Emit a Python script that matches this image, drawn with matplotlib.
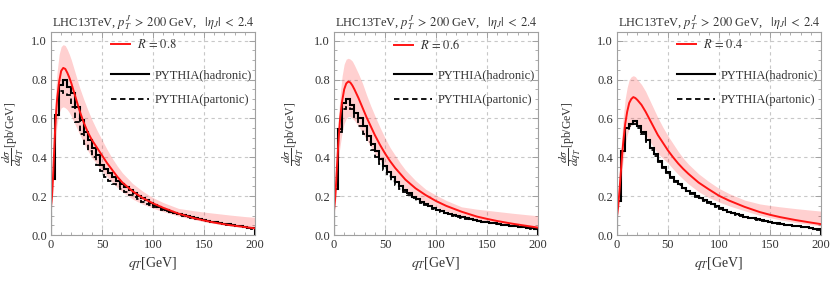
import matplotlib
matplotlib.use("Agg")

import matplotlib.pyplot as plt
import numpy as np
from matplotlib.lines import Line2D
from matplotlib.ticker import MultipleLocator

plt.rcParams["font.family"] = ["Liberation Serif", "DejaVu Serif"]
plt.rcParams["mathtext.fontset"] = "stix"

# histogram bins (4 GeV wide, 0..200)
bin_edges = np.arange(0, 201, 4)

# PYTHIA histograms, R = 0.8 / 0.6 / 0.4
had_08 = [0.29, 0.62, 0.77, 0.80, 0.76, 0.73, 0.66, 0.59, 0.53, 0.49,
          0.45, 0.41, 0.36, 0.34, 0.32, 0.30, 0.28, 0.26, 0.245, 0.23,
          0.215, 0.20, 0.19, 0.178, 0.165, 0.153, 0.143, 0.135, 0.127, 0.120,
          0.113, 0.107, 0.101, 0.096, 0.091, 0.086, 0.081, 0.077, 0.073, 0.069,
          0.065, 0.062, 0.058, 0.055, 0.051, 0.048, 0.045, 0.041, 0.038, 0.034]
par_08 = [0.29, 0.62, 0.74, 0.73, 0.72, 0.66, 0.58, 0.52, 0.47, 0.43,
          0.40, 0.36, 0.33, 0.30, 0.28, 0.265, 0.25, 0.235, 0.22, 0.207,
          0.195, 0.183, 0.172, 0.162, 0.153, 0.145, 0.138, 0.131, 0.124, 0.117,
          0.111, 0.105, 0.099, 0.094, 0.089, 0.084, 0.080, 0.076, 0.072, 0.068,
          0.064, 0.061, 0.057, 0.054, 0.050, 0.047, 0.044, 0.040, 0.037, 0.033]

had_06 = [0.235, 0.545, 0.68, 0.70, 0.67, 0.63, 0.60, 0.56, 0.51, 0.47,
          0.43, 0.39, 0.355, 0.325, 0.30, 0.275, 0.252, 0.232, 0.214, 0.198,
          0.184, 0.171, 0.159, 0.148, 0.138, 0.130, 0.122, 0.115, 0.108, 0.102,
          0.096, 0.091, 0.086, 0.081, 0.077, 0.073, 0.069, 0.066, 0.063, 0.060,
          0.057, 0.054, 0.051, 0.048, 0.046, 0.043, 0.040, 0.037, 0.034, 0.031]
par_06 = [0.235, 0.53, 0.65, 0.66, 0.65, 0.60, 0.56, 0.52, 0.48, 0.44,
          0.40, 0.365, 0.335, 0.305, 0.28, 0.258, 0.238, 0.22, 0.204, 0.19,
          0.177, 0.165, 0.154, 0.144, 0.135, 0.127, 0.119, 0.112, 0.106, 0.100,
          0.094, 0.089, 0.084, 0.080, 0.076, 0.072, 0.068, 0.065, 0.062, 0.059,
          0.056, 0.053, 0.050, 0.047, 0.045, 0.042, 0.039, 0.036, 0.033, 0.030]

had_04 = [0.175, 0.43, 0.55, 0.57, 0.585, 0.56, 0.53, 0.49, 0.45, 0.415,
          0.38, 0.35, 0.325, 0.30, 0.28, 0.26, 0.243, 0.228, 0.215, 0.202,
          0.19, 0.18, 0.17, 0.158, 0.147, 0.137, 0.128, 0.120, 0.113, 0.107,
          0.101, 0.095, 0.090, 0.085, 0.080, 0.076, 0.072, 0.068, 0.064, 0.061,
          0.057, 0.054, 0.051, 0.048, 0.045, 0.042, 0.039, 0.036, 0.033, 0.029]
par_04 = [0.175, 0.43, 0.54, 0.56, 0.57, 0.55, 0.52, 0.48, 0.44, 0.405,
          0.375, 0.345, 0.32, 0.295, 0.275, 0.255, 0.239, 0.224, 0.211, 0.198,
          0.187, 0.177, 0.167, 0.155, 0.145, 0.135, 0.126, 0.118, 0.111, 0.105,
          0.099, 0.093, 0.088, 0.083, 0.078, 0.074, 0.070, 0.066, 0.062, 0.059,
          0.055, 0.052, 0.049, 0.046, 0.043, 0.040, 0.037, 0.034, 0.031, 0.028]

# theory curves and scale bands
q_curve = [0, 1, 2, 3, 4, 5, 6, 8, 10, 12, 14, 16, 18, 20, 24, 28, 32, 36,
           40, 45, 50, 55, 60, 65, 70, 80, 90, 100, 110, 125, 140, 150, 160,
           175, 190, 200]

cen_08 = [0.15, 0.20, 0.30, 0.42, 0.54, 0.63, 0.70, 0.79, 0.845, 0.86, 0.855, 0.835,
          0.81, 0.78, 0.71, 0.64, 0.58, 0.53, 0.49, 0.45, 0.41, 0.37, 0.335, 0.30,
          0.27, 0.225, 0.19, 0.163, 0.14, 0.11, 0.087, 0.075, 0.064, 0.051, 0.041, 0.034]
up_08 = [0.20, 0.28, 0.40, 0.55, 0.68, 0.77, 0.84, 0.93, 0.97, 0.98, 0.975, 0.955,
         0.93, 0.90, 0.83, 0.76, 0.70, 0.645, 0.595, 0.54, 0.49, 0.44, 0.395, 0.355,
         0.32, 0.265, 0.225, 0.192, 0.167, 0.137, 0.125, 0.118, 0.112, 0.103, 0.095, 0.091]
lo_08 = [0.12, 0.16, 0.24, 0.35, 0.45, 0.52, 0.57, 0.63, 0.655, 0.66, 0.655, 0.645,
         0.63, 0.61, 0.565, 0.52, 0.475, 0.435, 0.40, 0.365, 0.33, 0.30, 0.272, 0.245,
         0.222, 0.185, 0.158, 0.138, 0.12, 0.097, 0.079, 0.069, 0.06, 0.048, 0.038, 0.031]

cen_06 = [0.13, 0.18, 0.26, 0.36, 0.45, 0.53, 0.60, 0.69, 0.75, 0.78, 0.79, 0.785,
          0.77, 0.75, 0.705, 0.655, 0.605, 0.56, 0.515, 0.465, 0.42, 0.38, 0.345, 0.315,
          0.285, 0.24, 0.205, 0.175, 0.15, 0.12, 0.095, 0.083, 0.072, 0.058, 0.046, 0.038]
up_06 = [0.17, 0.25, 0.35, 0.46, 0.57, 0.65, 0.72, 0.82, 0.88, 0.905, 0.91, 0.905,
         0.895, 0.875, 0.83, 0.78, 0.72, 0.665, 0.615, 0.555, 0.50, 0.45, 0.41, 0.37,
         0.335, 0.28, 0.235, 0.205, 0.178, 0.145, 0.133, 0.127, 0.121, 0.112, 0.104, 0.099]
lo_06 = [0.10, 0.14, 0.20, 0.28, 0.36, 0.42, 0.46, 0.53, 0.575, 0.60, 0.61, 0.61,
         0.60, 0.59, 0.56, 0.525, 0.49, 0.455, 0.42, 0.385, 0.35, 0.315, 0.285, 0.26,
         0.235, 0.195, 0.165, 0.143, 0.123, 0.10, 0.08, 0.07, 0.06, 0.049, 0.039, 0.033]

cen_04 = [0.10, 0.14, 0.20, 0.27, 0.34, 0.41, 0.47, 0.57, 0.635, 0.68, 0.70, 0.71,
          0.705, 0.695, 0.67, 0.635, 0.595, 0.555, 0.515, 0.475, 0.435, 0.40, 0.368, 0.34,
          0.315, 0.27, 0.235, 0.202, 0.177, 0.145, 0.118, 0.104, 0.092, 0.077, 0.064, 0.056]
up_04 = [0.13, 0.19, 0.27, 0.36, 0.45, 0.53, 0.60, 0.70, 0.76, 0.80, 0.815, 0.82,
         0.815, 0.80, 0.775, 0.74, 0.695, 0.65, 0.605, 0.555, 0.51, 0.47, 0.43, 0.395,
         0.365, 0.315, 0.275, 0.24, 0.213, 0.18, 0.16, 0.152, 0.145, 0.136, 0.128, 0.123]
lo_04 = [0.07, 0.11, 0.16, 0.22, 0.29, 0.34, 0.38, 0.46, 0.515, 0.55, 0.565, 0.57,
         0.57, 0.565, 0.545, 0.515, 0.485, 0.45, 0.42, 0.395, 0.37, 0.34, 0.312, 0.287,
         0.263, 0.223, 0.193, 0.17, 0.15, 0.125, 0.101, 0.089, 0.078, 0.064, 0.053, 0.046]

panels = [
    ("0.8", had_08, par_08, cen_08, up_08, lo_08),
    ("0.6", had_06, par_06, cen_06, up_06, lo_06),
    ("0.4", had_04, par_04, cen_04, up_04, lo_04),
]

W, H = 830, 285
fig = plt.figure(figsize=(W / 100, H / 100), dpi=100)
fig.patch.set_facecolor("white")

lefts = [51, 334, 617]
ylabel_x = [13, 293, 570]
ax_w, ax_top, ax_bot = 204, 32, 235

frame_col = "#a0a0a0"
text_col = "#333333"
red = "#ff1414"

for left, ylx, (rlab, had, par, cen, up, lo) in zip(lefts, ylabel_x, panels):
    ax = fig.add_axes([left / W, (H - ax_bot) / H, ax_w / W, (ax_bot - ax_top) / H])

    ax.fill_between(q_curve, lo, up, color=red, alpha=0.2, lw=0)
    ax.plot(q_curve, cen, color=red, lw=1.4)
    ax.stairs(had, bin_edges, color="black", lw=1.5)
    ax.stairs(par, bin_edges, color="black", lw=1.3, linestyle=(0, (3, 2)))

    ax.set_xlim(0, 200)
    ax.set_ylim(0, 1.045)
    ax.xaxis.set_major_locator(MultipleLocator(50))
    ax.xaxis.set_minor_locator(MultipleLocator(10))
    ax.yaxis.set_major_locator(MultipleLocator(0.2))
    ax.yaxis.set_minor_locator(MultipleLocator(0.05))
    ax.yaxis.set_major_formatter(plt.FuncFormatter(lambda v, _: f"{v:.1f}"))
    ax.tick_params(which="both", direction="in", top=True, right=True,
                   color=frame_col, labelcolor=text_col, labelsize=9, pad=3)
    ax.tick_params(which="major", length=4, width=0.7)
    ax.tick_params(which="minor", length=2, width=0.6)
    for sp in ax.spines.values():
        sp.set_color(frame_col)
        sp.set_linewidth(0.8)

    ax.grid(True, which="major", color="#c8c8c8", lw=0.8, linestyle=(0, (3, 3)))
    ax.set_axisbelow(True)

    ax.set_title(r"LHC13TeV, $p_T^J \;>\; 200$ GeV,   $|\eta_J| \;<\; 2.4$",
                 fontsize=9, color=text_col, pad=4)
    ax.set_xlabel(r"$q_T$[GeV]", fontsize=10, color=text_col)
    ax.xaxis.set_label_coords(0.5, -0.1)
    ax.set_ylabel(r"$\dfrac{d\sigma}{dq_T}$[pb/GeV]", fontsize=8.5, color=text_col)
    ax.yaxis.set_label_coords(-(left - ylx) / ax_w, 0.5)
    ax.yaxis.label.set_va("center")

    # legends
    leg1 = ax.legend([Line2D([], [], color=red, lw=1.4)], [rf"$R\,=\,{rlab}$"],
                     loc="center left", bbox_to_anchor=(0.295, 0.936),
                     frameon=False, fontsize=9, handlelength=1.5,
                     handletextpad=0.6, borderpad=0, borderaxespad=0)
    for t in leg1.get_texts():
        t.set_color(text_col)
    ax.add_artist(leg1)
    leg2 = ax.legend([Line2D([], [], color="black", lw=1.5),
                      Line2D([], [], color="black", lw=1.3, linestyle=(0, (3, 2)))],
                     ["PYTHIA(hadronic)", "PYTHIA(partonic)"],
                     loc="center left", bbox_to_anchor=(0.295, 0.724),
                     frameon=False, fontsize=9, handlelength=3.0,
                     handletextpad=0.45, labelspacing=1.0, borderpad=0, borderaxespad=0)
    for t in leg2.get_texts():
        t.set_color(text_col)

fig.savefig("out.png", dpi=100)
